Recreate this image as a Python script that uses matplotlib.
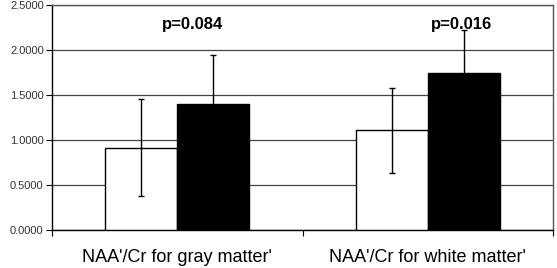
import numpy as np
from matplotlib import pyplot as plt

plt.rcParams['font.family'] = ['Liberation Sans', 'DejaVu Sans']

categories = ["NAA'/Cr for gray matter'", "NAA'/Cr for white matter'"]
white_vals = [0.915, 1.108]
white_err = [0.54, 0.47]
black_vals = [1.403, 1.748]
black_err = [0.54, 0.47]
p_labels = ["p=0.084", "p=0.016"]

fig = plt.figure(figsize=(5.57, 2.68), dpi=100)
ax = fig.add_axes([0.0934, 0.1418, 0.8994, 0.8392])

x = np.arange(len(categories))
w = 0.288
ax.bar(x - w/2, white_vals, w, color='white', edgecolor='black', linewidth=1.0, zorder=3)
ax.bar(x + w/2, black_vals, w, color='black', edgecolor='black', linewidth=1.0, zorder=3)
ax.errorbar(x - w/2, white_vals, yerr=white_err, fmt='none', ecolor='black',
            elinewidth=1.0, capsize=2.5, capthick=1.0, zorder=4)
ax.errorbar(x + w/2, black_vals, yerr=black_err, fmt='none', ecolor='black',
            elinewidth=1.0, capsize=2.5, capthick=1.0, zorder=2)

for xi, lbl in zip([0.06, 1.134], p_labels):
    ax.text(xi, 2.28, lbl, ha='center', va='center', fontsize=12, fontweight='bold')

ax.set_xlim(-0.5, 1.5)
ax.set_ylim(0, 2.5)
ax.set_yticks(np.arange(0, 2.51, 0.5))
ax.set_yticklabels(['%.4f' % v for v in np.arange(0, 2.51, 0.5)], fontsize=8, color='#333333')
ax.yaxis.grid(True, color='#444444', linewidth=0.9, zorder=0)
ax.set_axisbelow(True)

ax.set_xticks([-0.5, 0.5, 1.5])
ax.set_xticklabels([])
ax.set_xticks(x, minor=True)
ax.set_xticklabels(categories, minor=True, fontsize=13)
ax.tick_params(axis='x', which='minor', length=0, pad=14)
ax.tick_params(axis='x', which='major', direction='out', length=4)
ax.tick_params(axis='y', direction='out', length=4, pad=2)

for s in ax.spines.values():
    s.set_linewidth(1.0)
    s.set_color('black')
ax.spines['top'].set_color('#555555')
ax.spines['right'].set_color('#555555')

plt.savefig('out.png', dpi=100)
